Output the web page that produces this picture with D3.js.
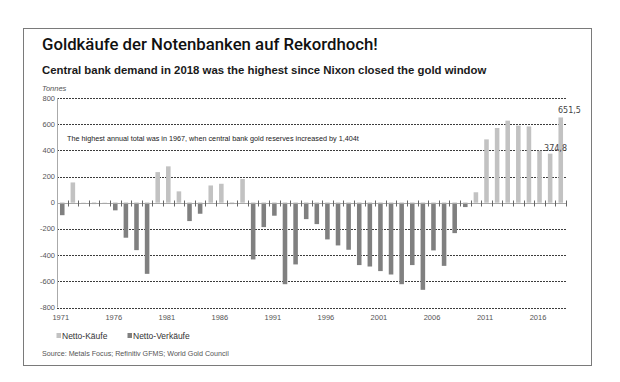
<!DOCTYPE html>
<html>
<head>
<meta charset="utf-8">
<script src="https://cdn.jsdelivr.net/npm/d3@7"></script>
<style>
  body { margin: 0; background: #fff; }
  svg { display: block; }
  text { font-family: "Liberation Sans Narrow", "Liberation Sans", Arial, sans-serif; }
</style>
</head>
<body>
<svg id="chart" width="620" height="382"></svg>
<script>
// categories
const years = d3.range(1971, 2019);
// net central bank demand, tonnes
const demand = [
  -95, 155, 2, -10, 2, -58, -267, -362, -543, 234,
  278, 87, -140, -84, 132, 145, -10, 181, -433, -186,
  -99, -622, -471, -125, -163, -280, -326, -359, -476, -487,
  -522, -548, -622, -476, -665, -364, -482, -232, -33, 80,
  484, 571, 627, 589, 583, 397, 374.8, 651.5
];
const yTicks = [800, 600, 400, 200, 0, -200, -400, -600, -800];
const xLabels = [1971, 1976, 1981, 1986, 1991, 1996, 2001, 2006, 2011, 2016];
const callouts = [{year: 2018, text: "651,5"}, {year: 2017, text: "374,8"}];
const legendItems = ["Netto-Käufe", "Netto-Verkäufe"];

const buyCol = "#c2c2c2", sellCol = "#808080";

const svg = d3.select("#chart");

// outer frame
svg.append("rect")
  .attr("x", 23.5).attr("y", 28.5)
  .attr("width", 568).attr("height", 337)
  .attr("fill", "none").attr("stroke", "#7a7a7a").attr("stroke-width", 1);

// squeeze a text to a given width by adjusting font-size
function fit(sel, w) {
  const n = sel.node();
  const fs = parseFloat(sel.attr("font-size"));
  const len = n.getComputedTextLength();
  sel.attr("font-size", (fs * w / len).toFixed(2));
  return sel;
}

fit(svg.append("text")
  .attr("x", 42).attr("y", 50)
  .attr("font-size", 17)
  .attr("font-weight", 500)
  .attr("fill", "#111")
  .style("font-family", "Roboto, 'Liberation Sans', sans-serif")
  .text("Goldkäufe der Notenbanken auf Rekordhoch!"), 336);

fit(svg.append("text")
  .attr("x", 42).attr("y", 74)
  .attr("font-size", 11)
  .attr("font-weight", "bold")
  .attr("fill", "#1a1a1a")
  .style("font-family", "'Liberation Sans', Arial, sans-serif")
  .text("Central bank demand in 2018 was the highest since Nixon closed the gold window"), 445);

svg.append("text")
  .attr("x", 42).attr("y", 91)
  .attr("font-size", 7.5)
  .attr("font-style", "italic")
  .attr("fill", "#555")
  .text("Tonnes");

const x = d3.scaleBand()
  .domain(years)
  .range([57, 566])
  .paddingInner(0.57)
  .paddingOuter(0.28);

const y = d3.scaleLinear()
  .domain([-800, 800])
  .range([307.5, 98]);

// grid lines
svg.append("g")
  .selectAll("line")
  .data(yTicks.filter(d => d !== 0))
  .join("line")
  .attr("x1", 57).attr("x2", 566)
  .attr("y1", d => Math.round(y(d)) + 0.5)
  .attr("y2", d => Math.round(y(d)) + 0.5)
  .attr("stroke", "#3c3c3c")
  .attr("stroke-width", 1)
  .attr("stroke-dasharray", "2,1");

// y axis line
svg.append("line")
  .attr("x1", 57.5).attr("x2", 57.5)
  .attr("y1", y(800)).attr("y2", y(-800))
  .attr("stroke", "#aaa");

// y labels
svg.append("g")
  .selectAll("text")
  .data(yTicks)
  .join("text")
  .attr("x", 55).attr("y", d => y(d) + 2.5)
  .attr("text-anchor", "end")
  .attr("font-size", 7.5)
  .attr("fill", "#555")
  .text(d => d);

// annotation
fit(svg.append("text")
  .attr("x", 67).attr("y", 140.5)
  .attr("font-size", 7.5)
  .attr("fill", "#222")
  .style("font-family", "'Liberation Sans', Arial, sans-serif")
  .text("The highest annual total was in 1967, when central bank gold reserves increased by 1,404t"), 292);

// bars
svg.append("g")
  .selectAll("rect")
  .data(years)
  .join("rect")
  .attr("x", (d) => x(d))
  .attr("width", x.bandwidth())
  .attr("y", (d, i) => y(Math.max(0, demand[i])))
  .attr("height", (d, i) => Math.abs(y(demand[i]) - y(0)))
  .attr("fill", (d, i) => demand[i] >= 0 ? buyCol : sellCol);

// zero line with ticks between bars
const y0 = Math.round(y(0)) + 0.5;
svg.append("line")
  .attr("x1", 57).attr("x2", 566)
  .attr("y1", y0).attr("y2", y0)
  .attr("stroke", "#a8a8a8");
const step = x.step();
const gap = step * x.paddingInner() / 2;
const tickPos = years.slice(1).map(d => x(d) - gap);
tickPos.push(x(years[years.length - 1]) + x.bandwidth() + gap);
svg.append("g")
  .selectAll("line")
  .data(tickPos)
  .join("line")
  .attr("x1", d => Math.round(d) + 0.5)
  .attr("x2", d => Math.round(d) + 0.5)
  .attr("y1", y0 - 3).attr("y2", y0 + 3)
  .attr("stroke", "#666");

// x labels
svg.append("g")
  .selectAll("text")
  .data(xLabels)
  .join("text")
  .attr("x", d => x(d) + x.bandwidth() / 2 - 1.5)
  .attr("y", 320)
  .attr("text-anchor", "middle")
  .attr("font-size", 7.5)
  .attr("fill", "#555")
  .text(d => d);

// value callouts
svg.append("text")
  .attr("x", x(callouts[0].year) - 0.5).attr("y", y(651.5) - 4)
  .attr("fill", "#444")
  .style("font-family", "'DejaVu Sans', sans-serif")
  .attr("font-size", 8)
  .text(callouts[0].text);
svg.append("text")
  .attr("x", 567).attr("y", y(374.8) - 3)
  .attr("text-anchor", "end")
  .attr("fill", "#444")
  .style("font-family", "'DejaVu Sans', sans-serif")
  .attr("font-size", 8)
  .text(callouts[1].text);

// legend
const leg = svg.append("g");
const legX = [56.5, 127.5];
legendItems.forEach((t, i) => {
  leg.append("rect")
    .attr("x", legX[i]).attr("y", 333)
    .attr("width", 4.5).attr("height", 5)
    .attr("fill", i === 0 ? buyCol : sellCol);
  leg.append("text")
    .attr("x", legX[i] + 5.5).attr("y", 338.5)
    .attr("font-size", 8.5)
    .attr("fill", "#333")
    .text(t);
});

fit(svg.append("text")
  .attr("x", 42).attr("y", 356)
  .attr("font-size", 7.5)
  .attr("fill", "#555")
  .text("Source: Metals Focus; Refinitiv GFMS; World Gold Council"), 187);
</script>
</body>
</html>
